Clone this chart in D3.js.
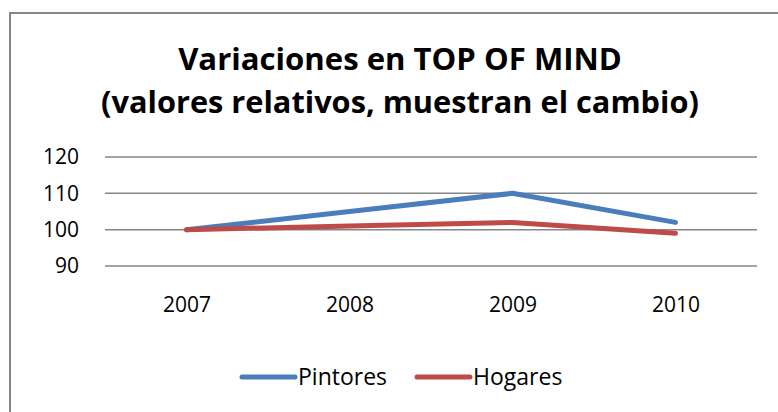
<!DOCTYPE html>
<html>
<head>
    <title>Variaciones en TOP OF MIND</title>
    <script src="https://d3js.org/d3.v7.min.js"></script>
    <style>
        body { margin: 0; background: #fff; }
        text { font-family: "Open Sans", "Liberation Sans", sans-serif; fill: #000; }
    </style>
</head>
<body>
    <div id="chart"></div>

    <script>
        // Chart data
        const years = ["2007", "2008", "2009", "2010"];
        const pintores = [100, 105, 110, 102];
        const hogares = [100, 101, 102, 99];
        const yTicks = [90, 100, 110, 120];
        const seriesNames = ["Pintores", "Hogares"];
        const colors = ["#4a7ebb", "#be4b48"];

        const W = 778, H = 412;
        const margin = { top: 157, right: 21, bottom: 146, left: 105 },
            width = W - margin.left - margin.right,
            height = H - margin.top - margin.bottom;

        const root = d3.select("#chart")
            .append("svg")
            .attr("width", W)
            .attr("height", H);

        // outer frame (runs off the page on right and bottom)
        root.append("rect")
            .attr("x", 10).attr("y", 13)
            .attr("width", 800).attr("height", 450)
            .attr("fill", "#fff")
            .attr("stroke", "#868686")
            .attr("stroke-width", 2);

        // title, sized to match the reference widths
        const titleLines = [
            { text: "Variaciones en TOP OF MIND", y: 70, w: 444 },
            { text: "(valores relativos, muestran el cambio)", y: 113, w: 598 }
        ];
        titleLines.forEach(t => {
            const el = root.append("text")
                .attr("x", 400).attr("y", t.y)
                .attr("text-anchor", "middle")
                .attr("font-weight", "bold")
                .attr("font-size", 30)
                .text(t.text);
            const len = el.node().getComputedTextLength();
            el.attr("font-size", 30 * t.w / len);
        });

        const svg = root.append("g")
            .attr("transform", `translate(${margin.left},${margin.top})`);

        const x = d3.scalePoint()
            .domain(years)
            .range([0, width])
            .padding(0.5);

        const y = d3.scaleLinear()
            .domain([90, 120])
            .range([height, 0]);

        // gridlines
        svg.append("g")
            .selectAll("line")
            .data(yTicks)
            .enter().append("line")
            .attr("x1", 0).attr("x2", width)
            .attr("y1", d => y(d)).attr("y2", d => y(d))
            .attr("stroke", "#868686")
            .attr("stroke-width", 1.5);

        const labelFont = "'Open Sans', 'Liberation Sans', sans-serif";

        // y axis labels
        const yAxis = svg.append("g")
            .call(d3.axisLeft(y).tickValues(yTicks).tickSize(0).tickPadding(26));
        yAxis.select(".domain").remove();
        yAxis.selectAll("text")
            .attr("font-size", 21)
            .style("font-family", labelFont)
            .attr("fill", "#000");

        // x axis labels
        const xAxis = svg.append("g")
            .attr("transform", `translate(0, ${height})`)
            .call(d3.axisBottom(x).tickSize(0).tickPadding(31));
        xAxis.select(".domain").remove();
        xAxis.selectAll("text")
            .attr("font-size", 21)
            .style("font-family", labelFont)
            .attr("fill", "#000");

        // lines
        const line = d3.line()
            .x((d, i) => x(years[i]))
            .y(d => y(d));

        [pintores, hogares].forEach((s, i) => {
            svg.append("path")
                .datum(s)
                .attr("fill", "none")
                .attr("stroke", colors[i])
                .attr("stroke-width", 5)
                .attr("stroke-linecap", "round")
                .attr("stroke-linejoin", "round")
                .attr("d", line);
        });

        // legend
        const legendX = [242, 417];
        const legend = root.append("g");
        seriesNames.forEach((name, i) => {
            legend.append("line")
                .attr("x1", legendX[i]).attr("x2", legendX[i] + 53)
                .attr("y1", 377).attr("y2", 377)
                .attr("stroke", colors[i])
                .attr("stroke-width", 5)
                .attr("stroke-linecap", "round");
            legend.append("text")
                .attr("x", legendX[i] + 56)
                .attr("y", 377)
                .attr("dy", "0.35em")
                .attr("font-size", 23)
                .text(name);
        });
    </script>
</body>
</html>
